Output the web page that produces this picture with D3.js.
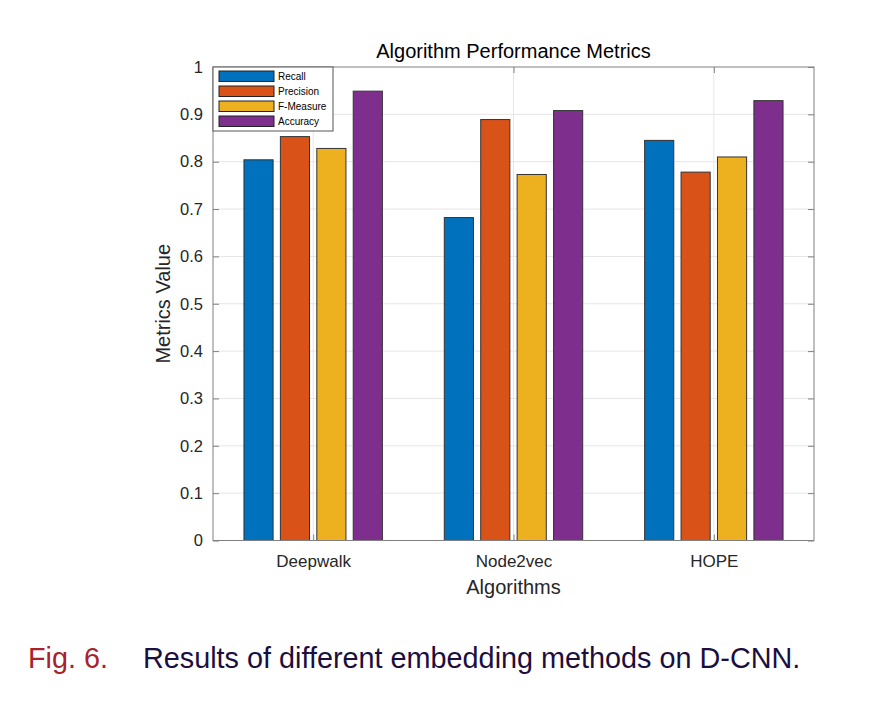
<!DOCTYPE html>
<html><head><meta charset="utf-8">
<script src="https://cdn.jsdelivr.net/npm/d3@7"></script>
<style>body{margin:0;background:#fff}svg{display:block}</style>
</head><body>
<svg id="c" width="892" height="704"></svg>
<script>
const categories = ["Deepwalk", "Node2vec", "HOPE"];
const seriesNames = ["Recall", "Precision", "F-Measure", "Accuracy"];
const recall = [0.804, 0.682, 0.845];
const precision = [0.853, 0.889, 0.778];
const fMeasure = [0.828, 0.773, 0.810];
const accuracy = [0.949, 0.908, 0.929];
const yTicks = [0, 0.1, 0.2, 0.3, 0.4, 0.5, 0.6, 0.7, 0.8, 0.9, 1];
const colors = ["#0072BD", "#D95319", "#EDB120", "#7E2F8E"];
const series = [recall, precision, fMeasure, accuracy];

const svg = d3.select("#c");
const L = 213, R = 814, T = 67, B = 540.5;
const font = "'Liberation Sans', Arial, sans-serif";
const axisCol = "#808080", textCol = "#262626";

const x = d3.scaleLinear().domain([0.5, 3.5]).range([L, R]);
const y = d3.scaleLinear().domain([0, 1]).range([B, T]);

// grid
const g = svg.append("g");
g.selectAll(".gy").data(yTicks.slice(1, -1)).join("line")
  .attr("x1", L).attr("x2", R).attr("y1", d => y(d)).attr("y2", d => y(d))
  .attr("stroke", "#e6e6e6").attr("stroke-width", 1);
g.selectAll(".gx").data(categories).join("line")
  .attr("x1", (d, i) => x(i + 1)).attr("x2", (d, i) => x(i + 1))
  .attr("y1", T).attr("y2", B)
  .attr("stroke", "#e6e6e6").attr("stroke-width", 1);

// bars
const groupW = Math.min(0.8, 4 / (4 + 1.5));
const step = groupW / 4;
const bw = step * 0.8;
series.forEach((vals, s) => {
  svg.append("g").selectAll("rect").data(vals).join("rect")
    .attr("x", (d, i) => x(i + 1 - groupW / 2 + step * s + (step - bw) / 2))
    .attr("width", x(bw) - x(0))
    .attr("y", d => y(d))
    .attr("height", d => y(0) - y(d))
    .attr("fill", colors[s])
    .attr("stroke", "#333").attr("stroke-width", 1);
});

// axes box
svg.append("rect").attr("x", L).attr("y", T).attr("width", R - L).attr("height", B - T)
  .attr("fill", "none").attr("stroke", axisCol).attr("stroke-width", 1);

// y ticks
const yAxisL = d3.axisLeft(y).tickValues(yTicks).tickSize(-6).tickPadding(10).tickFormat(d3.format("~g"));
const ya = svg.append("g").attr("transform", `translate(${L},0)`).call(yAxisL);
ya.select(".domain").remove();
ya.selectAll("line").attr("stroke", axisCol);
ya.selectAll("text").attr("font-family", font).attr("font-size", 16.5).attr("fill", textCol);
const yAxisR = d3.axisRight(y).tickValues(yTicks).tickSize(-6).tickFormat("");
const yr = svg.append("g").attr("transform", `translate(${R},0)`).call(yAxisR);
yr.select(".domain").remove();
yr.selectAll("line").attr("stroke", axisCol);

// x ticks
const xAxisB = d3.axisBottom(x).tickValues([1, 2, 3]).tickSize(-6).tickPadding(14)
  .tickFormat((d) => categories[d - 1]);
const xa = svg.append("g").attr("transform", `translate(0,${B})`).call(xAxisB);
xa.select(".domain").remove();
xa.selectAll("line").attr("stroke", axisCol);
xa.selectAll("text").attr("font-family", font).attr("font-size", 17).attr("fill", textCol);
const xAxisT = d3.axisTop(x).tickValues([1, 2, 3]).tickSize(-6).tickFormat("");
const xt = svg.append("g").attr("transform", `translate(0,${T})`).call(xAxisT);
xt.select(".domain").remove();
xt.selectAll("line").attr("stroke", axisCol);

// title and labels
svg.append("text").attr("x", (L + R) / 2).attr("y", 58).attr("text-anchor", "middle")
  .attr("font-family", font).attr("font-size", 20).attr("fill", "#000").text("Algorithm Performance Metrics");
svg.append("text").attr("x", (L + R) / 2).attr("y", 594).attr("text-anchor", "middle")
  .attr("font-family", font).attr("font-size", 20).attr("fill", textCol).text("Algorithms");
svg.append("text").attr("transform", `translate(170,${(T + B) / 2}) rotate(-90)`).attr("text-anchor", "middle")
  .attr("font-family", font).attr("font-size", 20).attr("fill", textCol).text("Metrics Value");

// legend
const lg = svg.append("g");
lg.append("rect").attr("x", 213).attr("y", 67).attr("width", 120).attr("height", 64)
  .attr("fill", "#fff").attr("stroke", "#555").attr("stroke-width", 1);
seriesNames.forEach((n, i) => {
  lg.append("rect").attr("x", 219).attr("y", 71 + i * 15).attr("width", 55).attr("height", 10.5)
    .attr("fill", colors[i]).attr("stroke", "#222").attr("stroke-width", 1);
  lg.append("text").attr("x", 278).attr("y", 80 + i * 15).attr("font-family", font)
    .attr("font-size", 10).attr("fill", "#000").text(n);
});

// caption
const cap = svg.append("text").attr("y", 668).attr("font-family", font).attr("font-size", 28.8);
cap.append("tspan").attr("x", 28).attr("fill", "#a8222d").text("Fig. 6.");
cap.append("tspan").attr("x", 143).attr("fill", "#1c0f3f").text("Results of different embedding methods on D-CNN.");
</script>
</body></html>
